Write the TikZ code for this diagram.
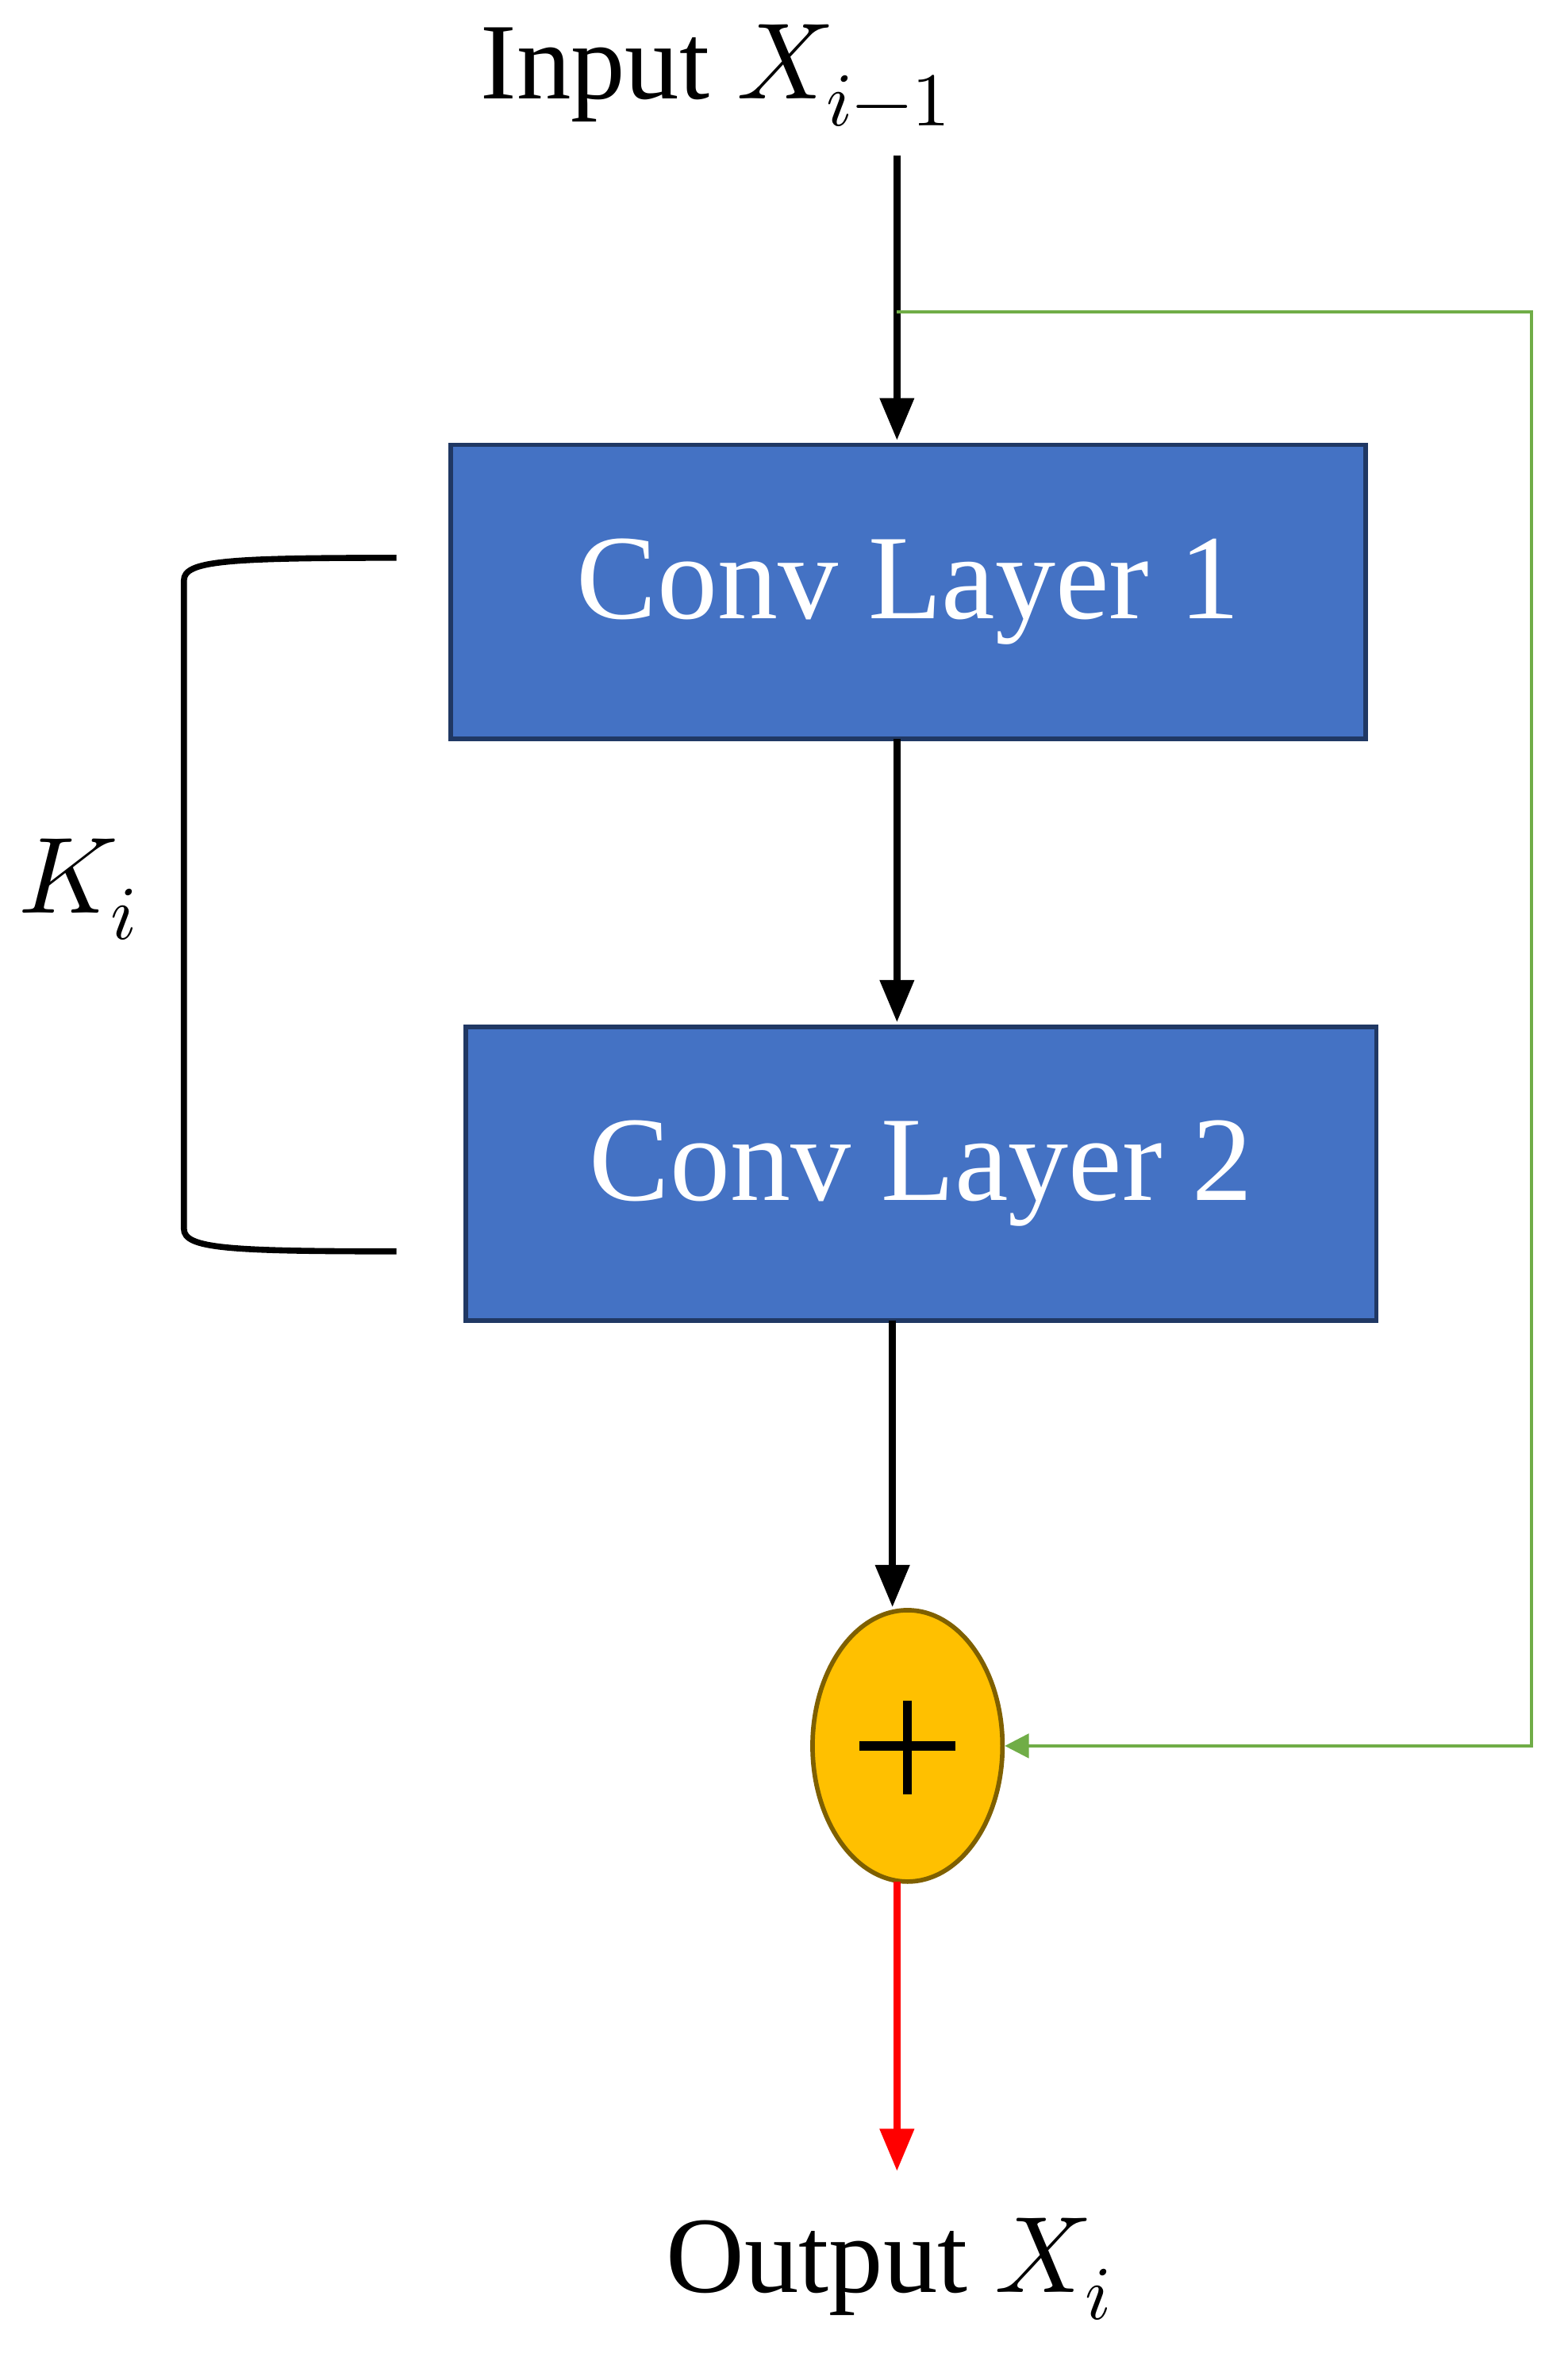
\documentclass[tikz,border=0pt]{standalone}
\usepackage{fontspec}
\setmainfont{Liberation Serif}
\usepackage{unicode-math}
\setmathfont{Latin Modern Math}
\usetikzlibrary{arrows.meta,shapes.geometric}
\definecolor{boxblue}{RGB}{68,114,196}
\definecolor{boxedge}{RGB}{32,56,100}
\definecolor{gold}{RGB}{255,192,0}
\definecolor{goldedge}{RGB}{127,96,0}
\definecolor{skip}{RGB}{112,173,71}
\begin{document}
\begin{tikzpicture}[x=0.5pt,y=-0.5pt,
  box/.style={draw=boxedge,line width=1.5pt,fill=boxblue,text=white,font=\fontsize{40}{44}\selectfont,inner sep=0pt},
  arr/.style={line width=2.2pt,-{Triangle[length=14pt,width=11pt]}},
  lbl/.style={font=\fontsize{36}{40}\selectfont}]
\useasboundingbox (0,0) rectangle (1040,1566);
\node[lbl] (in) at (475,50) {Input $X_{i-1}$};
\coordinate (a0) at (595,103);
\node[box,minimum width=303.5pt,minimum height=97.5pt] (c1) at (602.5,392.5) {Conv Layer 1};
\node[box,minimum width=302pt,minimum height=97.5pt] (c2) at (611,778.5) {Conv Layer 2};
\node[ellipse,draw=goldedge,line width=1.5pt,fill=gold,minimum width=63pt,minimum height=90pt,inner sep=0pt] (p) at (602,1158) {};
\draw[line width=3pt] (570,1158)--(634,1158) (602,1128)--(602,1190);
\node[lbl] (out) at (590,1505) {Output $X_i$};
\coordinate (o1) at (595,1440);
\draw[arr] (a0)--(595,292);
\draw[arr] (595,490)--(595,678);
\draw[arr] (592,876)--(592,1066);
\draw[line width=2.2pt,red,-{Triangle[length=14pt,width=11pt]}] (595,1248)--(o1);
\draw[skip,line width=1pt,-{Triangle[length=8pt,width=8pt]}] (595,207)--(1016,207)--(1016,1158)--(p.east);
\draw[line width=2pt] (263,370) .. controls (150,370) and (122,372) .. (122,385) -- (122,815) .. controls (122,828) and (150,830) .. (263,830);
\node[lbl] (k) at (52,590) {$K_i$};
\end{tikzpicture}
\end{document}
